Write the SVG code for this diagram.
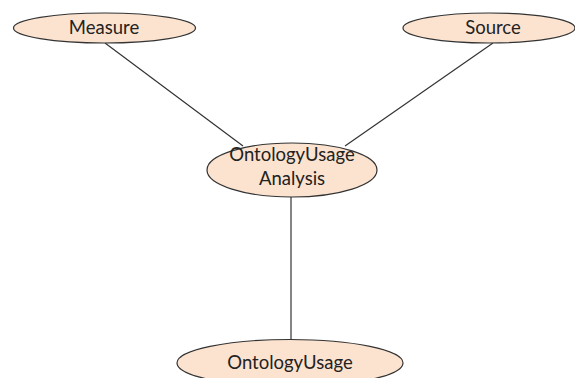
<svg xmlns="http://www.w3.org/2000/svg" width="575" height="378" viewBox="0 0 575 378">
  <style>
    .node ellipse { fill: #fce3cf; stroke: #333333; stroke-width: 1.2; }
    .node text { font-family: Lato, "Liberation Sans", sans-serif; font-size: 18.5px; fill: #222222; text-anchor: middle; }
    .edge { stroke: #333333; stroke-width: 1.2; fill: none; }
  </style>
  <rect width="575" height="378" fill="#ffffff"/>
  <g id="connectors">
    <line class="edge" x1="105" y1="43" x2="243" y2="146"/>
    <line class="edge" x1="493" y1="43" x2="345" y2="146"/>
    <line class="edge" x1="291" y1="197" x2="291" y2="340"/>
  </g>
  <g id="measure" class="node">
    <ellipse cx="104.5" cy="28" rx="91" ry="15"/>
    <text x="104" y="34">Measure</text>
  </g>
  <g id="source" class="node">
    <ellipse cx="489" cy="28" rx="86" ry="15"/>
    <text x="493" y="34">Source</text>
  </g>
  <g id="analysis" class="node">
    <ellipse cx="292" cy="170" rx="85" ry="27"/>
    <text x="292" y="161">OntologyUsage</text>
    <text x="292" y="184.5">Analysis</text>
  </g>
  <g id="ontology-usage" class="node">
    <ellipse cx="290" cy="363" rx="113" ry="23.5"/>
    <text x="290" y="368.5">OntologyUsage</text>
  </g>
</svg>
